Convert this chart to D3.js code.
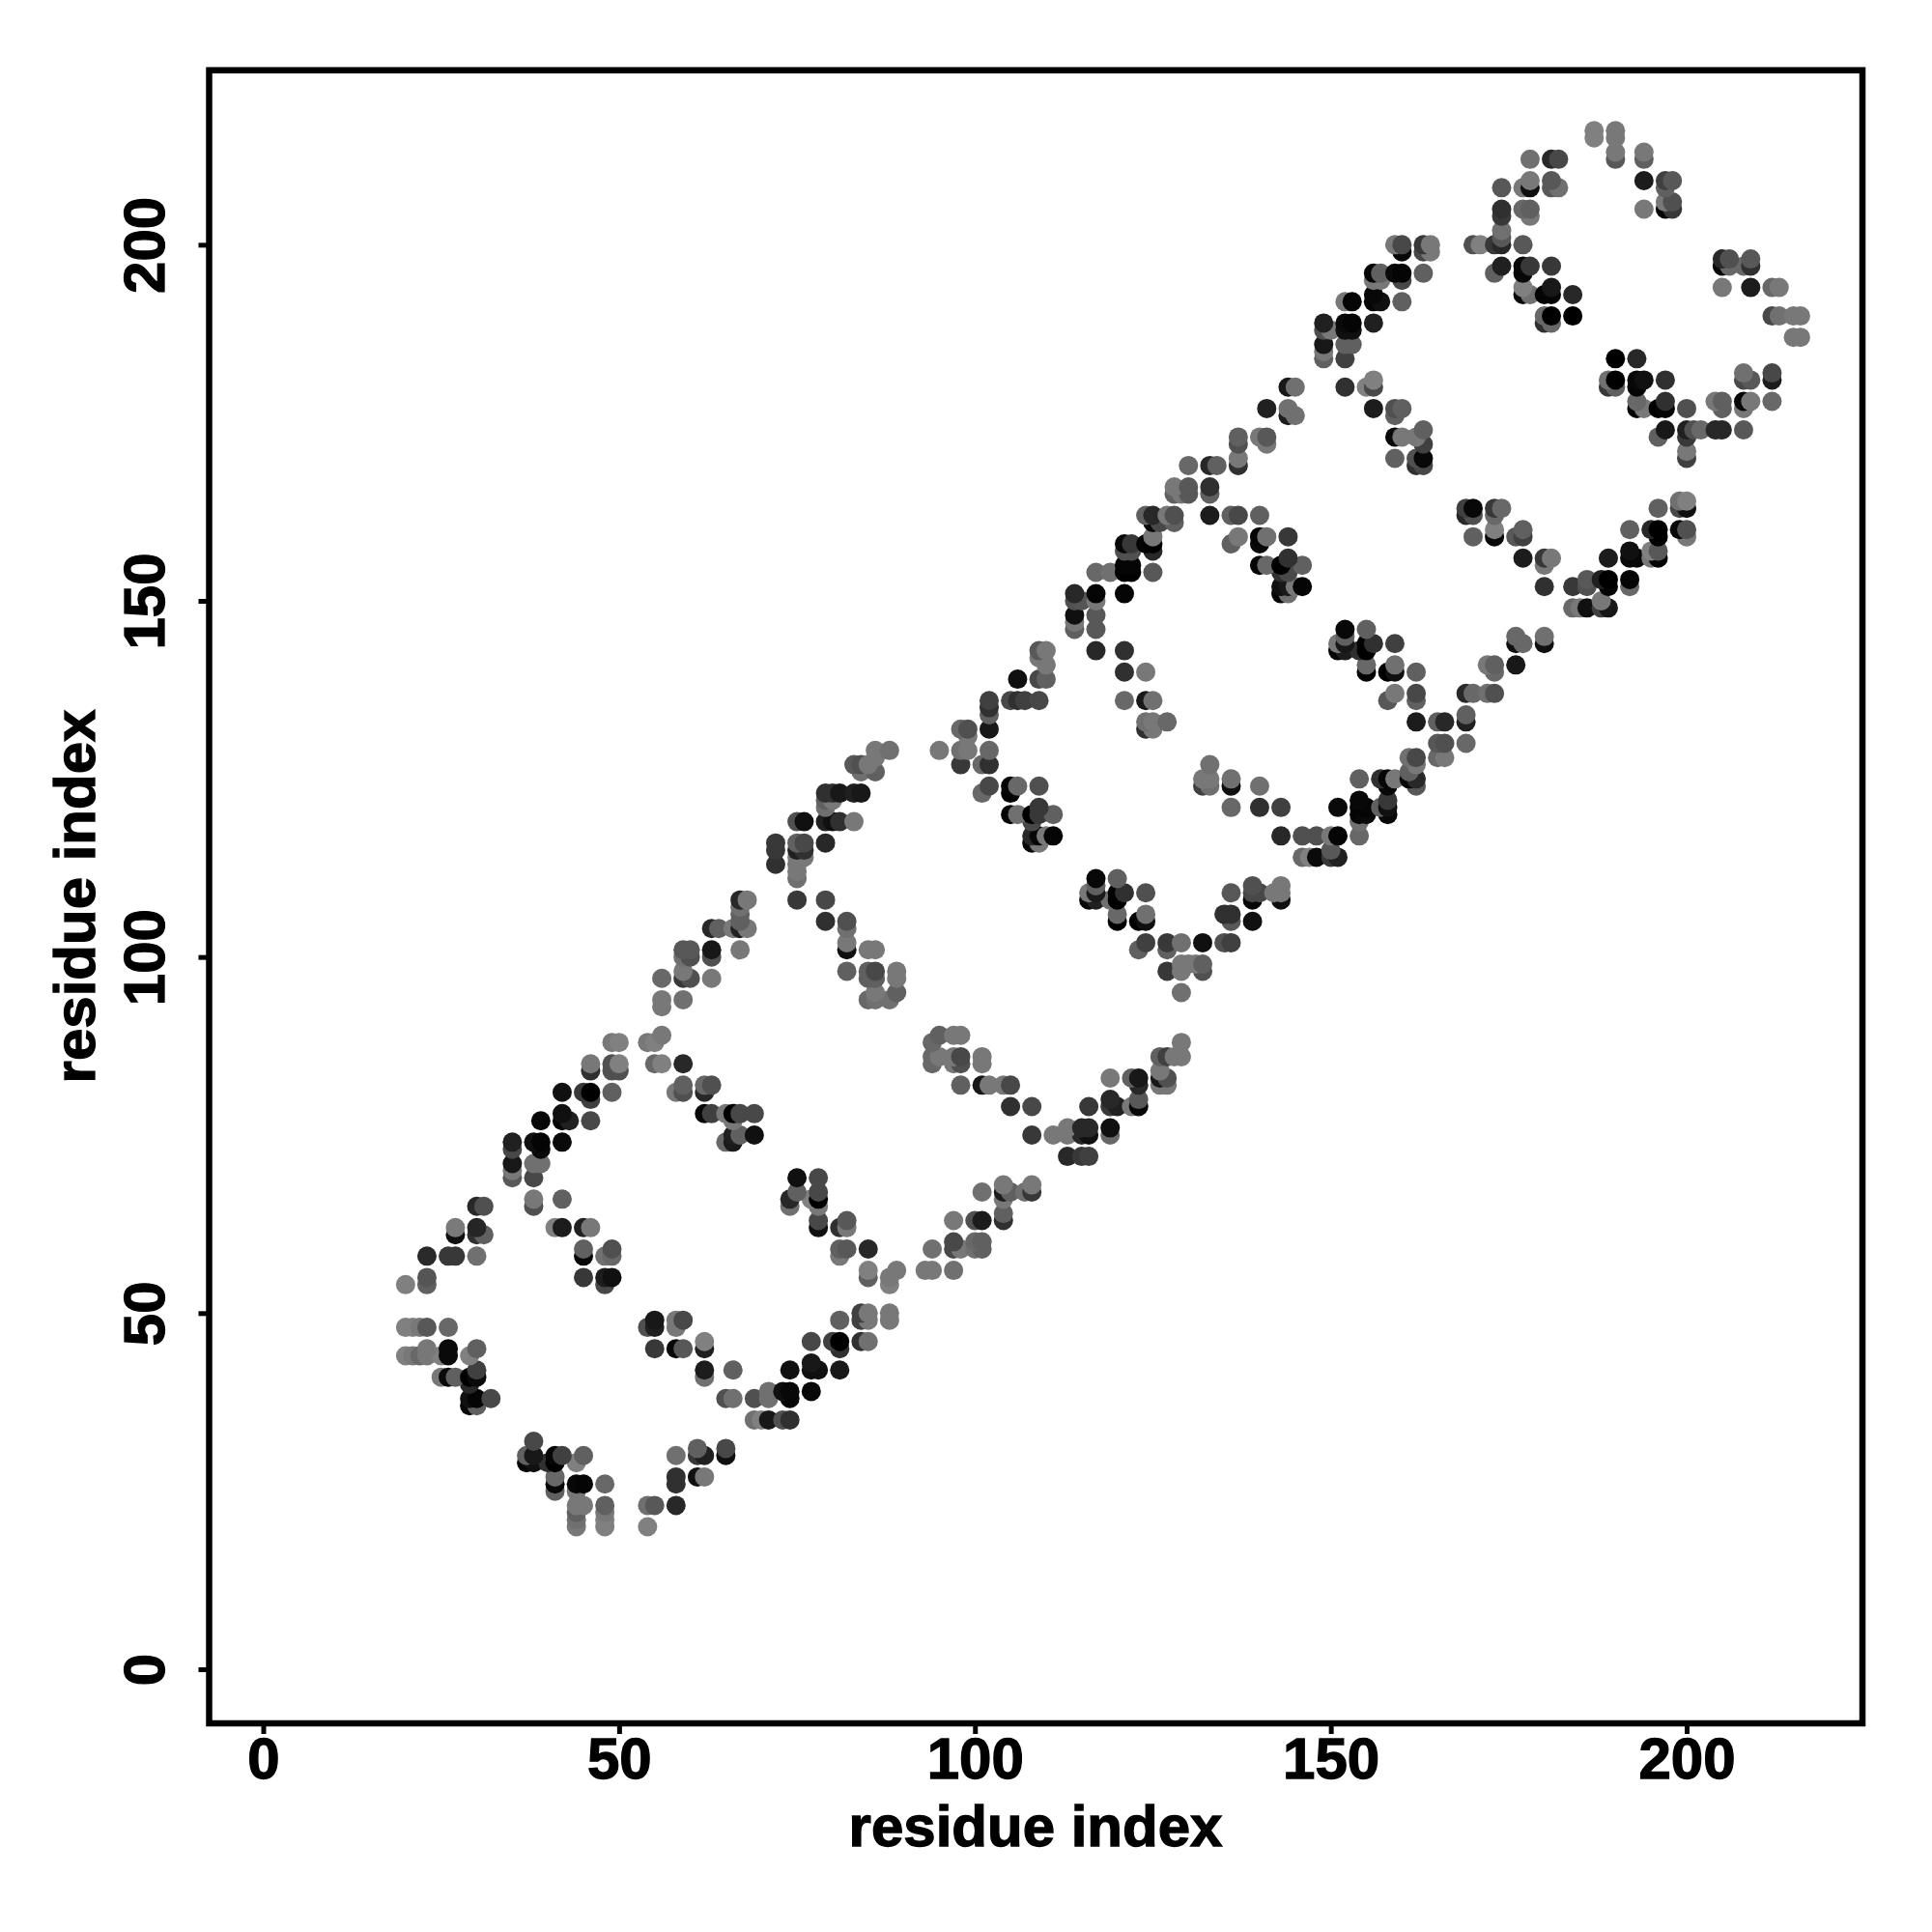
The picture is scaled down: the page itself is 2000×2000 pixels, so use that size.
<!DOCTYPE html>
<html><head><meta charset="utf-8">
<script src="https://cdn.jsdelivr.net/npm/d3@7"></script>
<style>html,body{margin:0;background:#fff}svg{display:block}text{font-family:"Liberation Sans",sans-serif;font-weight:700;fill:#000;stroke:#000;stroke-width:1.3px}</style>
</head><body><svg id="c" width="2000" height="2000"></svg>
<script>
// each contact: [residue index x, residue index y, grey shade]
const armA=[[20,54,0x80],[23,54,0x60],[23,55,0x55],[23,58,0x2a],[26,58,0x38],[27,58,0x38],[30,58,0x70],[27,61,0x10],[30,61,0x30],[31,61,0x60],[27,62,0x7a],[30,62,0x25],[30,65,0x28],[31,65,0x50],
[20,48,0x80],[21,48,0x80],[22,48,0x78],[23,48,0x58],[26,48,0x68],[20,44,0x80],[21,44,0x78],[22,44,0x68],[23,44,0x78],[25,44,0x80],[26,44,0x0a],[29,44,0x80],[23,45,0x78],[26,45,0x0a],[30,45,0x60],
[25,41,0x78],[26,41,0x0a],[27,41,0x60],[29,41,0x00],[30,41,0x0a],[30,42,0x40],[29,40,0x28],[29,38,0x10],[30,38,0x05],[32,38,0x48],[29,37,0x08],[30,37,0x60]];
const armB=[[38,32,0x48],[37,30,0x60],[38,30,0x18],[41,30,0x05],[42,30,0x40],[45,30,0x60],[37,29,0x05],[38,29,0x10],[40,29,0x30],[41,29,0x00],[44,29,0x80],[41,27,0x68],[41,26,0x08],[44,26,0x08],[45,26,0x05],[48,26,0x68],[41,25,0x60],[44,25,0x78],
[44,23,0x78],[45,23,0x78],[48,23,0x60],[44,22,0x60],[48,22,0x78],[44,21,0x70],[48,21,0x80],[44,20,0x78],[48,20,0x80],[54,20,0x80],[54,23,0x70],[55,23,0x58],[58,23,0x28],[58,26,0x30],[58,27,0x30],[61,27,0x10],[62,27,0x78],[58,30,0x70],[61,30,0x38],[61,31,0x60],[62,30,0x20],[65,30,0x10],[65,31,0x48]];
const armC=[[38,65,0x50],[38,66,0x78],[42,66,0x60],[41,62,0x80],[42,62,0x1c],[45,62,0x20],[46,62,0x78],[45,59,0x60],[49,59,0x50],[45,58,0x08],[48,58,0x70],[49,58,0x68],[45,55,0x38],[48,55,0x1c],[49,55,0x10],[48,54,0x48],
[54,48,0x50],[55,48,0x20],[58,48,0x78],[55,49,0x18],[58,49,0x78],[59,49,0x48],[55,45,0x38],[58,45,0x08],[59,45,0x58],[62,45,0x20],[62,46,0x80],[62,42,0x1c],[66,42,0x60],[62,41,0x70],
[65,38,0x50],[66,38,0x70],[69,38,0x50],[71,38,0x70],[71,39,0x70],[74,38,0x08],[73,39,0x10],[74,39,0x08],[77,39,0x08],[69,35,0x70],[70,35,0x80],[71,35,0x18],[73,35,0x50],[74,35,0x30]];
const armD=[[35,74,0x20],[38,74,0x10],[39,74,0x05],[42,74,0x0a],[35,73,0x48],[39,73,0x0a],[35,71,0x18],[38,71,0x70],[39,71,0x70],[35,70,0x78],[35,69,0x58],[38,69,0x48],
[39,77,0x08],[42,77,0x05],[43,77,0x20],[46,77,0x48],[42,78,0x10],[42,81,0x10],[45,81,0x38],[46,81,0x00],[49,81,0x60],[46,80,0x40],[46,84,0x30],[49,84,0x50],[50,84,0x50],[46,85,0x78],[49,85,0x50],[50,85,0x80],[49,88,0x78],[50,88,0x80]];
const armE=[[54,88,0x78],[55,88,0x80],[56,89,0x78],[55,85,0x68],[56,85,0x80],[59,85,0x28],[59,82,0x60],[62,82,0x68],[63,82,0x50],[58,81,0x78],[59,81,0x50],[62,81,0x28],[62,78,0x08],[63,78,0x40],[65,78,0x78],[66,78,0x00],[67,78,0x48],[69,78,0x48],[66,77,0x78],[66,75,0x20],[67,75,0x60],[69,75,0x10],[65,74,0x68],[66,74,0x1a],
[56,94,0x78],[59,94,0x70],[56,93,0x78],[56,97,0x68],[59,97,0x38],[60,97,0x50],[63,97,0x78],[59,98,0x78],[59,100,0x70],[60,100,0x50],[63,100,0x50],[59,101,0x58],[60,101,0x58],[63,101,0x18],[67,101,0x78],[63,104,0x28],[64,104,0x60],[66,104,0x78],[67,104,0x20],[68,104,0x78],[67,105,0x60],[67,106,0x60],[67,107,0x70],[67,108,0x28],[68,108,0x78]];
const armF=[[75,69,0x10],[78,69,0x48],[75,67,0x60],[78,67,0x48],[74,66,0x28],[77,66,0x80],[78,66,0x00],[74,65,0x70],[78,65,0x78],[78,63,0x48],[78,62,0x10],[81,62,0x30],[82,62,0x78],[82,63,0x58],[81,59,0x60],[82,59,0x58],[85,59,0x28],[81,58,0x78],[85,56,0x80],[89,56,0x78],[85,55,0x60],[88,55,0x78],[88,54,0x80],
[81,49,0x60],[84,49,0x40],[85,49,0x78],[88,49,0x78],[84,50,0x40],[85,50,0x78],[88,50,0x78],[77,46,0x48],[80,46,0x40],[81,46,0x00],[84,46,0x30],[85,46,0x70],[81,45,0x30],[77,43,0x18],[74,42,0x10],[77,42,0x10],[78,42,0x10],[81,42,0x18]];
const armG=[[75,111,0x70],[75,108,0x38],[79,108,0x48],[79,105,0x30],[82,105,0x50],[82,104,0x70],[82,102,0x78],[82,101,0x10],[85,101,0x78],[86,101,0x78],[82,98,0x60],[85,98,0x60],[86,98,0x48],[89,98,0x78],[85,97,0x60],[86,97,0x60],[89,97,0x78],[86,95,0x78],[89,95,0x60],[85,94,0x68],[86,94,0x70],[88,94,0x70],
[72,113,0x30],[72,115,0x38],[72,116,0x38],[75,115,0x20],[76,115,0x30],[75,116,0x60],[76,116,0x48],[75,114,0x78],[76,114,0x78],[75,113,0x78],[75,112,0x78],[75,119,0x50],[76,119,0x10],[79,116,0x28],[79,119,0x20],[80,119,0x10],[81,119,0x30],[83,119,0x78],[79,122,0x60],[80,122,0x78],[79,123,0x30],[80,123,0x30],[81,123,0x18],[83,123,0x20],[84,123,0x18],[79,121,0x70],[83,127,0x58],[84,127,0x50],[84,126,0x70],[86,126,0x60],[85,127,0x78],[86,128,0x78],[86,129,0x78],[88,129,0x70]];
const armH=[[95,89,0x60],[97,89,0x78],[98,89,0x78],[94,88,0x68],[94,86,0x68],[95,86,0x78],[97,86,0x78],[98,86,0x48],[101,86,0x78],[94,85,0x68],[97,85,0x78],[98,85,0x50],[101,85,0x78],[98,82,0x60],[101,82,0x18],[102,82,0x78],[104,82,0x78],[105,82,0x48],[105,79,0x30],[108,79,0x48],[108,75,0x38],[111,75,0x78],[113,75,0x78],[115,75,0x28],[116,75,0x10],[113,76,0x78],[115,76,0x28],[116,76,0x28],[119,76,0x10],[119,75,0x68],[113,72,0x28],[115,72,0x38],[116,72,0x40],
[116,79,0x38],[119,79,0x38],[120,79,0x20],[122,79,0x78],[123,79,0x08],[119,80,0x28],[123,80,0x58],[119,83,0x78],[122,83,0x60],[123,83,0x18],[123,82,0x28],[126,86,0x60],[127,86,0x40],[128,86,0x78],[129,86,0x78],[129,88,0x78],[126,84,0x78],[126,83,0x18],[127,83,0x50],[126,82,0x78],[127,82,0x78]];
const armI=[[93,56,0x78],[94,56,0x78],[97,56,0x70],[94,59,0x70],[97,59,0x48],[98,59,0x78],[100,59,0x70],[101,59,0x60],[97,60,0x48],[100,60,0x68],[101,60,0x60],[97,63,0x78],[100,63,0x50],[101,63,0x1c],[104,63,0x30],[104,64,0x60],[101,67,0x70],[104,67,0x1c],[105,67,0x60],[107,67,0x70],[108,67,0x38],[104,68,0x78],[108,68,0x78],[104,66,0x78]];
const armJ=[[98,132,0x68],[99,132,0x50],[102,132,0x18],[99,131,0x78],[95,129,0x78],[98,129,0x70],[99,129,0x78],[102,129,0x68],[98,127,0x38],[101,127,0x68],[102,127,0x30],[102,124,0x48],[105,124,0x05],[106,124,0x68],[109,124,0x50],[101,123,0x68],[105,123,0x00],[105,120,0x05],[106,120,0x70],[108,120,0x00],[109,120,0x38],[111,120,0x60],[109,121,0x38],[108,119,0x48],[108,117,0x28],[109,117,0x08],[110,117,0x78],[111,117,0x05],[108,116,0x08],[109,116,0x78],
[102,135,0x30],[102,136,0x40],[102,134,0x60],[105,136,0x48],[106,136,0x30],[107,136,0x40],[106,139,0x10],[109,136,0x48],[109,139,0x48],[110,139,0x60],[110,141,0x78],[109,142,0x78],[110,143,0x78],[109,143,0x58]];
const armK=[[117,111,0x08],[120,111,0x60],[117,110,0x60],[116,109,0x78],[117,109,0x1a],[120,109,0x00],[121,109,0x30],[124,109,0x50],[116,108,0x08],[117,108,0x20],[119,108,0x70],[120,108,0x00],[120,106,0x68],[124,106,0x70],[120,105,0x00],[123,105,0x00],[124,105,0x10],[124,102,0x40],[127,102,0x38],[129,102,0x70],[132,102,0x10],[135,102,0x50],[136,102,0x40],[123,101,0x60],[127,101,0x60],
[127,98,0x38],[129,98,0x78],[132,98,0x50],[129,99,0x78],[130,99,0x78],[131,99,0x78],[132,99,0x60],[129,95,0x70],[135,106,0x30],[136,106,0x30],[136,105,0x58],[139,105,0x10],[136,109,0x58],[139,109,0x48],[140,109,0x48],[139,110,0x50],[139,108,0x08],[142,109,0x78],[143,109,0x78],[143,110,0x78],[143,108,0x10]];
const armL=[[133,127,0x70],[132,125,0x78],[133,125,0x78],[136,125,0x70],[132,124,0x40],[133,124,0x70],[136,124,0x10],[140,124,0x70],[136,121,0x68],[140,121,0x30],[143,121,0x40],[143,117,0x28],[146,117,0x50],[148,117,0x50],[150,117,0x78],[151,117,0x05],[154,117,0x68],[154,119,0x70],[146,114,0x68],[147,114,0x80],[148,114,0x0a],[150,114,0x38],[151,114,0x20],[150,115,0x58],
[151,121,0x0a],[154,121,0x05],[155,121,0x05],[157,121,0x60],[158,121,0x10],[154,122,0x08],[158,122,0x38],[154,120,0x05],[155,120,0x0a],[158,120,0x08],[154,125,0x60],[157,125,0x30],[158,125,0x05],[159,125,0x78],[158,124,0x08],[162,128,0x48],[162,127,0x78],[162,125,0x28],[162,124,0x58],[161,128,0x70],[161,125,0x0a],[161,126,0x60]];
const armM=[[124,133,0x70],[125,133,0x78],[127,133,0x68],[124,132,0x30],[125,132,0x78],[121,136,0x68],[124,136,0x18],[125,136,0x70],[121,140,0x30],[124,140,0x78],[117,143,0x28],[121,143,0x30],[114,146,0x60],[117,146,0x58],[114,147,0x78],[114,148,0x10],[117,148,0x58],[114,150,0x50],[115,150,0x55],[117,150,0x78],[114,151,0x28],[117,151,0x05],[121,151,0x05],
[117,154,0x68],[119,154,0x70],[121,154,0x00],[122,154,0x00],[125,154,0x58],[121,155,0x05],[122,155,0x05],[121,157,0x50],[122,157,0x50],[125,157,0x28],[121,158,0x08],[122,158,0x38],[124,158,0x05],[125,158,0x00],[125,159,0x78],[124,162,0x60],[125,162,0x28],[127,162,0x78],[128,162,0x50],[125,161,0x08],[126,161,0x48],[128,161,0x60],[133,162,0x1c],[128,166,0x78],[130,166,0x58],[133,166,0x30],[128,165,0x60],[129,165,0x78],[130,165,0x58],[133,165,0x60],[130,169,0x68],[133,169,0x28],[134,169,0x60],[137,169,0x30],[137,170,0x78],[137,172,0x50],[137,173,0x60]];
const armN=[[136,162,0x60],[137,162,0x48],[140,162,0x60],[137,159,0x78],[140,159,0x05],[141,159,0x70],[144,159,0x38],[136,158,0x60],[140,158,0x08],[140,155,0x05],[141,155,0x68],[143,155,0x00],[146,155,0x60],[144,156,0x30],[143,152,0x10],[144,152,0x18],[145,152,0x78],[146,152,0x05],[143,151,0x05],[144,151,0x70],[144,154,0x48],[143,154,0x30],
[152,146,0x08],[155,146,0x60],[152,145,0x60],[151,144,0x78],[152,144,0x18],[155,144,0x00],[156,144,0x30],[159,144,0x40],[151,143,0x05],[152,143,0x1c],[154,143,0x30],[155,143,0x00],[155,141,0x68],[159,141,0x70],[155,140,0x00],[158,140,0x00],[159,140,0x10],[162,140,0x60],[159,137,0x78],[162,137,0x48],[158,136,0x58],[162,136,0x60],[162,133,0x1c],[165,133,0x60],[166,133,0x28],[169,133,0x20],[169,134,0x60],[165,130,0x58],[166,130,0x50],[169,130,0x68],[165,128,0x68],[166,128,0x78],[169,137,0x28],[170,137,0x68],[172,137,0x70],[173,137,0x50],[172,141,0x78],[173,141,0x60],[176,141,0x18],[173,140,0x68],[176,145,0x68],[180,145,0x70],[176,144,0x10],[177,144,0x68],[180,144,0x10]];
const armO=[[169,163,0x40],[170,163,0x08],[173,163,0x38],[174,163,0x68],[169,162,0x28],[170,162,0x50],[173,162,0x68],[170,159,0x60],[173,159,0x08],[176,159,0x58],[177,159,0x40],[173,160,0x80],[177,160,0x60],[177,156,0x1c],[180,156,0x38],[181,156,0x78],[180,155,0x78],[180,152,0x30],[184,152,0x38],[186,152,0x50],[189,152,0x05],[192,152,0x68],[186,153,0x58],[188,153,0x20],[189,153,0x00],[192,153,0x05],[188,150,0x78],[184,149,0x68],[185,149,0x78],[186,149,0x10],[188,149,0x40],[189,149,0x18],
[199,164,0x70],[200,164,0x80],[196,163,0x60],[199,163,0x48],[200,163,0x10],[192,160,0x60],[195,160,0x28],[196,160,0x00],[199,160,0x08],[200,160,0x50],[196,159,0x00],[200,159,0x78],[192,157,0x10],[195,157,0x80],[196,157,0x58],[189,156,0x1c],[192,156,0x0a],[193,156,0x08],[195,156,0x78],[196,156,0x05]];
const armP=[[159,200,0x78],[160,200,0x48],[163,200,0x38],[164,200,0x78],[160,199,0x08],[163,199,0x48],[164,199,0x78],[156,196,0x05],[157,196,0x60],[159,196,0x0a],[160,196,0x05],[163,196,0x60],[156,195,0x78],[157,195,0x78],[160,195,0x48],[156,193,0x08],[152,192,0x78],[153,192,0x05],[156,192,0x05],[157,192,0x10],[160,192,0x60],[149,189,0x20],[152,189,0x0a],[153,189,0x05],[156,189,0x20],[149,188,0x50],[150,188,0x78],[152,188,0x10],[153,188,0x10],[149,186,0x18],[152,186,0x60],[153,186,0x60],[149,185,0x78],[149,184,0x60],[152,184,0x40],
[144,180,0x18],[145,180,0x70],[152,180,0x30],[155,180,0x80],[156,180,0x48],[156,181,0x80],[141,177,0x20],[144,177,0x70],[145,176,0x70],[144,176,0x1c],[156,177,0x1c],[159,177,0x50],[160,177,0x60],[159,176,0x60],[140,173,0x78],[141,173,0x58],[159,173,0x0a],[160,173,0x78],[162,173,0x78],[163,174,0x60],[141,172,0x78],[163,172,0x40],[159,170,0x60],[162,170,0x50],[163,170,0x08],[162,169,0x30],[163,169,0x48]];
const armQ=[[187,216,0x80],[190,216,0x78],[187,215,0x80],[190,215,0x78],[190,213,0x78],[194,213,0x78],[178,212,0x70],[181,212,0x28],[182,212,0x48],[190,212,0x58],[194,212,0x60],[178,209,0x78],[181,209,0x58],[194,209,0x1c],[197,209,0x40],[198,209,0x58],[174,208,0x58],[177,208,0x78],[178,208,0x10],[181,208,0x58],[182,208,0x70],[197,208,0x60],[197,206,0x78],[198,206,0x50],[174,205,0x30],[177,205,0x68],[178,205,0x60],[194,205,0x78],[197,205,0x05],[198,205,0x38],[174,204,0x38],[178,204,0x78],[174,202,0x70],[174,201,0x58],
[170,200,0x50],[171,200,0x80],[173,200,0x38],[174,200,0x28],[177,200,0x58],[174,197,0x20],[177,197,0x08],[178,197,0x38],[181,197,0x38],[173,196,0x60],[177,196,0x08],[177,194,0x80],[181,194,0x18],[177,193,0x08],[178,193,0x70],[180,193,0x05],[181,193,0x05],[184,193,0x28],[180,190,0x68],[181,190,0x00],[184,190,0x00],[180,189,0x30],[181,189,0x68]];
const armR=[[205,198,0x28],[206,198,0x50],[209,198,0x58],[205,197,0x08],[206,197,0x68],[208,197,0x68],[209,197,0x30],[205,194,0x78],[209,194,0x1c],[212,194,0x68],[213,194,0x78],[212,190,0x48],[213,190,0x70],[215,190,0x78],[216,190,0x78],[215,187,0x78],[216,187,0x78],
[190,184,0x00],[193,184,0x28],[189,181,0x70],[190,181,0x00],[193,181,0x08],[194,181,0x10],[197,181,0x30],[189,180,0x38],[190,180,0x60],[193,180,0x05],[193,178,0x68],[197,178,0x30],[208,182,0x70],[212,182,0x48],[208,181,0x48],[209,181,0x58],[212,181,0x1c],[204,178,0x78],[205,178,0x60],[208,178,0x08],[209,178,0x78],[212,178,0x68],[193,177,0x05],[194,177,0x78],[196,177,0x00],[197,177,0x05],[200,177,0x50],[205,177,0x60],[208,177,0x78],[197,174,0x18],[200,174,0x20],[201,174,0x50],[202,174,0x68],[204,174,0x28],[205,174,0x28],[208,174,0x58],[196,173,0x60],[200,173,0x38],[200,171,0x78],[200,170,0x40]];
const xTicks=[0,50,100,150,200];
const yTicks=[0,50,100,150,200];
const axisTitle="residue index";

const contacts=[armA,armB,armC,armD,armE,armF,armG,armH,armI,armJ,armK,armL,armM,armN,armO,armP,armQ,armR].flat()
  .map(([i,j,shade])=>({i,j,shade}))
  .sort((a,b)=>d3.ascending(a.j,b.j)||d3.ascending(a.i,b.i));

const x=d3.scaleLinear().domain([-7.6,224.7]).range([216.5,1928]);
const y=d3.scaleLinear().domain([-7.6,224.5]).range([1784,72.7]);
const grey=d3.scaleLinear().domain([0,255]).range(["#000","#fff"]);
const svg=d3.select("#c");

svg.append("g").selectAll("circle").data(contacts).join("circle")
  .attr("cx",d=>x(d.i)).attr("cy",d=>y(d.j)).attr("r",10).attr("fill",d=>grey(d.shade));

const gx=svg.append("g").attr("transform","translate(0,1784)")
  .call(d3.axisBottom(x).tickValues(xTicks).tickSize(11).tickPadding(8));
const gy=svg.append("g").attr("transform","translate(216.5,0)")
  .call(d3.axisLeft(y).tickValues(yTicks).tickSize(11).tickPadding(0));
[gx,gy].forEach(g=>{g.select(".domain").remove();g.selectAll(".tick line").attr("stroke","#000").attr("stroke-width",5);
  g.selectAll("text").attr("font-size",60).attr("font-family","Liberation Sans").attr("font-weight",700).attr("fill","#000");});
gx.selectAll("text").attr("dy",null).attr("y",null).attr("text-anchor","middle").attr("transform","translate(0,57)");
gy.selectAll("text").attr("x",null).attr("dy",null).attr("text-anchor","middle").attr("transform","translate(-46.5,0) rotate(-90)");

svg.append("rect").attr("x",x.range()[0]).attr("y",y.range()[1])
  .attr("width",x.range()[1]-x.range()[0]).attr("height",y.range()[0]-y.range()[1])
  .attr("fill","none").attr("stroke","#000").attr("stroke-width",6.5);

svg.append("text").attr("x",1072).attr("y",1911).attr("text-anchor","middle").attr("font-size",60).text(axisTitle);
svg.append("text").attr("transform","translate(98,928) rotate(-90)").attr("text-anchor","middle").attr("font-size",60).text(axisTitle);
</script></body></html>
